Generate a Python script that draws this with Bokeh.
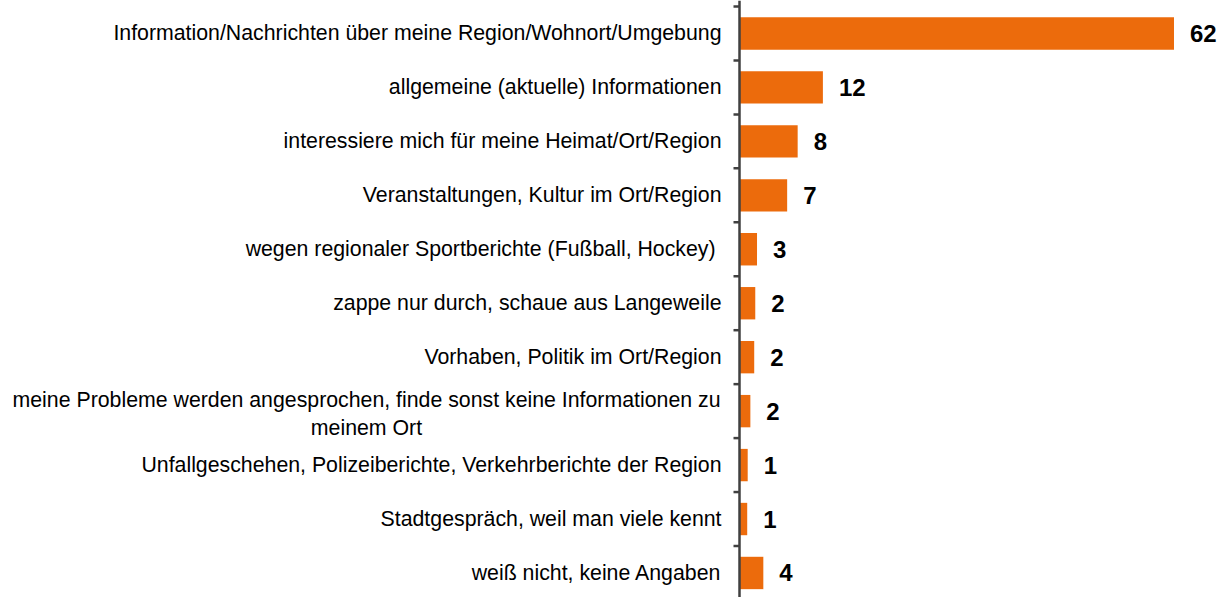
from bokeh.plotting import figure
from bokeh.models import ColumnDataSource, Range1d, Span
from bokeh.embed import file_html
from bokeh.resources import INLINE
from bokeh.core.properties import value

categories = [
    "Information/Nachrichten über meine Region/Wohnort/Umgebung",
    "allgemeine (aktuelle) Informationen",
    "interessiere mich für meine Heimat/Ort/Region",
    "Veranstaltungen, Kultur im Ort/Region",
    "wegen regionaler  Sportberichte (Fußball, Hockey)",
    "zappe nur durch, schaue aus Langeweile",
    "Vorhaben, Politik im Ort/Region",
    "meine Probleme werden angesprochen, finde sonst keine Informationen zu\nmeinem Ort",
    "Unfallgeschehen, Polizeiberichte, Verkehrberichte der Region",
    "Stadtgespräch, weil man viele kennt",
    "weiß nicht, keine Angaben",
]
values = [62.0, 11.9, 8.3, 6.8, 2.5, 2.25, 2.1, 1.55, 1.17, 1.1, 3.4]
value_labels = ["62", "12", "8", "7", "3", "2", "2", "2", "1", "1", "4"]

BAR_COLOR = "#EC6B0C"
AXIS_COLOR = "#404040"
FONT = "Liberation Sans"
CAT_SIZE = "21.3px"

W, H = 1222, 597
AXIS_X = 739          # pixel position of the category axis
row_px = 53.95
top_px = 6.0
px_per_unit = 7.008
TICK_LEN = 6          # px
LABEL_GAP = 18        # px between label end and axis
MULTI_CENTER = 373    # px from axis to centre of a wrapped label
MULTI_DROP = 3        # px downward shift of a wrapped label

n = len(categories)
pos = list(range(n))

y_top = -0.5 - top_px / row_px
y_bottom = y_top + H / row_px

p = figure(
    width=W, height=H, output_backend="svg", toolbar_location=None,
    x_range=Range1d(-AXIS_X / px_per_unit, (W - AXIS_X) / px_per_unit),
    y_range=Range1d(y_bottom, y_top),
    x_axis_location=None, y_axis_location=None,
    min_border=0,
)
p.outline_line_color = None
p.background_fill_color = "white"
p.border_fill_color = "white"
p.grid.visible = False

# bars
bars = ColumnDataSource(dict(pos=pos, value=values, label=value_labels))
p.hbar(y="pos", left=0, right="value", height=0.6, source=bars,
       fill_color=BAR_COLOR, line_color=None)

# category axis line and ticks between categories
p.add_layout(Span(location=0, dimension="height",
                  line_color=AXIS_COLOR, line_width=2.5))
bounds = [i - 0.5 for i in range(n + 1)]
p.segment(x0=[0] * len(bounds), x1=[-TICK_LEN / px_per_unit] * len(bounds),
          y0=bounds, y1=bounds, line_color=AXIS_COLOR, line_width=2.5)

# category labels
is_multi = ["\n" in c for c in categories]
cats = ColumnDataSource(dict(
    pos=pos, text=categories, x=[0] * n,
    align=["center" if m else "right" for m in is_multi],
    xoff=[-MULTI_CENTER if m else -LABEL_GAP for m in is_multi],
    yoff=[MULTI_DROP if m else 0 for m in is_multi],
))
p.text(x="x", y="pos", text="text", source=cats,
       x_offset="xoff", y_offset="yoff",
       text_align="align", text_baseline="middle",
       text_font=value(FONT), text_font_size=CAT_SIZE, text_color="#000000",
       text_line_height=1.18)

# value labels
p.text(x="value", y="pos", text="label", source=bars,
       x_offset=16, text_align="left", text_baseline="middle",
       text_font=value(FONT), text_font_style="bold",
       text_font_size="24px", text_color="#000000")

open("out.html", "w").write(file_html(p, INLINE))
